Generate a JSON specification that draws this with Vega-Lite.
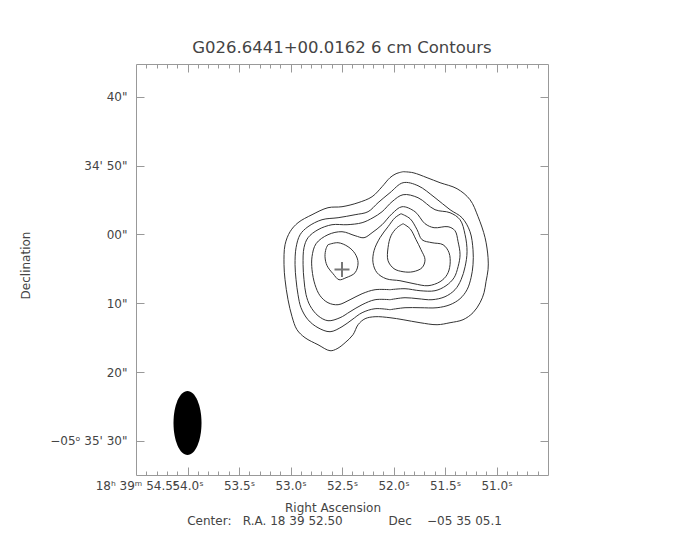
{
  "$schema": "https://vega.github.io/schema/vega-lite/v6.json",
  "width": 412,
  "height": 411,
  "autosize": {"type": "none"},
  "padding": {"left": 136, "top": 64, "right": 136, "bottom": 65},
  "background": "white",
  "title": {"text": "G026.6441+00.0162 6 cm Contours", "font": "DejaVu Sans", "fontSize": 16.5, "fontWeight": "normal", "color": "#444", "offset": 7, "anchor": "middle"},
  "config": {
    "view": {"stroke": "#999", "strokeWidth": 1},
    "axis": {"grid": false, "domain": false, "labelFont": "DejaVu Sans", "labelFontSize": 12, "labelColor": "#444", "titleFont": "DejaVu Sans", "titleFontSize": 12, "titleFontWeight": "normal", "titleColor": "#444", "tickColor": "#999", "tickWidth": 1}
  },
  "datasets": {
    "contours": [
      {"c":1,"i":0,"ra":51.907,"dec":9.105},{"c":1,"i":1,"ra":51.810,"dec":8.960},{"c":1,"i":2,"ra":51.674,"dec":8.234},{"c":1,"i":3,"ra":51.548,"dec":7.507},{"c":1,"i":4,"ra":51.383,"dec":6.636},{"c":1,"i":5,"ra":51.257,"dec":5.038},{"c":1,"i":6,"ra":51.179,"dec":2.569},{"c":1,"i":7,"ra":51.111,"dec":-0.482},{"c":1,"i":8,"ra":51.082,"dec":-3.387},{"c":1,"i":9,"ra":51.082,"dec":-5.130},{"c":1,"i":10,"ra":51.102,"dec":-6.873},{"c":1,"i":11,"ra":51.121,"dec":-8.471},{"c":1,"i":12,"ra":51.160,"dec":-9.924},{"c":1,"i":13,"ra":51.228,"dec":-11.376},{"c":1,"i":14,"ra":51.325,"dec":-12.393},{"c":1,"i":15,"ra":51.451,"dec":-12.829},{"c":1,"i":16,"ra":51.577,"dec":-13.120},{"c":1,"i":17,"ra":51.742,"dec":-12.829},{"c":1,"i":18,"ra":51.907,"dec":-12.393},{"c":1,"i":19,"ra":52.034,"dec":-12.103},{"c":1,"i":20,"ra":52.179,"dec":-11.957},{"c":1,"i":21,"ra":52.276,"dec":-12.248},{"c":1,"i":22,"ra":52.344,"dec":-13.120},{"c":1,"i":23,"ra":52.393,"dec":-14.572},{"c":1,"i":24,"ra":52.470,"dec":-15.734},{"c":1,"i":25,"ra":52.548,"dec":-16.606},{"c":1,"i":26,"ra":52.616,"dec":-16.896},{"c":1,"i":27,"ra":52.733,"dec":-16.025},{"c":1,"i":28,"ra":52.859,"dec":-15.008},{"c":1,"i":29,"ra":52.937,"dec":-13.846},{"c":1,"i":30,"ra":52.985,"dec":-11.957},{"c":1,"i":31,"ra":53.024,"dec":-9.488},{"c":1,"i":32,"ra":53.053,"dec":-6.583},{"c":1,"i":33,"ra":53.063,"dec":-4.404},{"c":1,"i":34,"ra":53.053,"dec":-1.499},{"c":1,"i":35,"ra":53.004,"dec":0.390},{"c":1,"i":36,"ra":52.927,"dec":1.697},{"c":1,"i":37,"ra":52.791,"dec":2.859},{"c":1,"i":38,"ra":52.636,"dec":3.876},{"c":1,"i":39,"ra":52.500,"dec":4.021},{"c":1,"i":40,"ra":52.344,"dec":4.602},{"c":1,"i":41,"ra":52.208,"dec":5.474},{"c":1,"i":42,"ra":52.111,"dec":6.926},{"c":1,"i":43,"ra":52.034,"dec":8.234},{"c":1,"i":44,"ra":51.975,"dec":8.815},{"c":1,"i":45,"ra":51.907,"dec":9.105},

      {"c":2,"i":0,"ra":52.034,"dec":-10.941},{"c":2,"i":1,"ra":52.179,"dec":-10.795},{"c":2,"i":2,"ra":52.305,"dec":-11.376},{"c":2,"i":3,"ra":52.403,"dec":-12.393},{"c":2,"i":4,"ra":52.500,"dec":-13.410},{"c":2,"i":5,"ra":52.616,"dec":-14.136},{"c":2,"i":6,"ra":52.733,"dec":-13.555},{"c":2,"i":7,"ra":52.830,"dec":-12.393},{"c":2,"i":8,"ra":52.898,"dec":-10.650},{"c":2,"i":9,"ra":52.927,"dec":-8.762},{"c":2,"i":10,"ra":52.946,"dec":-6.583},{"c":2,"i":11,"ra":52.956,"dec":-4.404},{"c":2,"i":12,"ra":52.946,"dec":-1.934},{"c":2,"i":13,"ra":52.907,"dec":-0.046},{"c":2,"i":14,"ra":52.830,"dec":1.116},{"c":2,"i":15,"ra":52.694,"dec":2.133},{"c":2,"i":16,"ra":52.538,"dec":2.423},{"c":2,"i":17,"ra":52.373,"dec":2.859},{"c":2,"i":18,"ra":52.247,"dec":3.295},{"c":2,"i":19,"ra":52.150,"dec":4.602},{"c":2,"i":20,"ra":52.034,"dec":6.055},{"c":2,"i":21,"ra":51.907,"dec":7.507},{"c":2,"i":22,"ra":51.762,"dec":7.072},{"c":2,"i":23,"ra":51.597,"dec":5.329},{"c":2,"i":24,"ra":51.451,"dec":3.585},{"c":2,"i":25,"ra":51.335,"dec":2.423},{"c":2,"i":26,"ra":51.257,"dec":0.390},{"c":2,"i":27,"ra":51.228,"dec":-2.225},{"c":2,"i":28,"ra":51.228,"dec":-4.404},{"c":2,"i":29,"ra":51.247,"dec":-6.292},{"c":2,"i":30,"ra":51.286,"dec":-8.035},{"c":2,"i":31,"ra":51.354,"dec":-9.343},{"c":2,"i":32,"ra":51.451,"dec":-10.214},{"c":2,"i":33,"ra":51.577,"dec":-10.650},{"c":2,"i":34,"ra":51.742,"dec":-10.650},{"c":2,"i":35,"ra":51.888,"dec":-10.650},{"c":2,"i":36,"ra":52.034,"dec":-10.941},

      {"c":3,"i":0,"ra":52.034,"dec":-9.488},{"c":3,"i":1,"ra":52.179,"dec":-9.488},{"c":3,"i":2,"ra":52.305,"dec":-10.214},{"c":3,"i":3,"ra":52.422,"dec":-11.231},{"c":3,"i":4,"ra":52.519,"dec":-12.103},{"c":3,"i":5,"ra":52.636,"dec":-12.538},{"c":3,"i":6,"ra":52.733,"dec":-11.812},{"c":3,"i":7,"ra":52.810,"dec":-10.359},{"c":3,"i":8,"ra":52.849,"dec":-8.762},{"c":3,"i":9,"ra":52.869,"dec":-6.583},{"c":3,"i":10,"ra":52.878,"dec":-4.404},{"c":3,"i":11,"ra":52.869,"dec":-1.934},{"c":3,"i":12,"ra":52.830,"dec":-0.482},{"c":3,"i":13,"ra":52.733,"dec":0.680},{"c":3,"i":14,"ra":52.597,"dec":1.406},{"c":3,"i":15,"ra":52.451,"dec":1.406},{"c":3,"i":16,"ra":52.305,"dec":1.697},{"c":3,"i":17,"ra":52.199,"dec":2.423},{"c":3,"i":18,"ra":52.111,"dec":3.295},{"c":3,"i":19,"ra":52.014,"dec":4.747},{"c":3,"i":20,"ra":51.907,"dec":5.764},{"c":3,"i":21,"ra":51.762,"dec":5.329},{"c":3,"i":22,"ra":51.597,"dec":3.585},{"c":3,"i":23,"ra":51.451,"dec":3.150},{"c":3,"i":24,"ra":51.354,"dec":2.133},{"c":3,"i":25,"ra":51.305,"dec":-0.046},{"c":3,"i":26,"ra":51.286,"dec":-2.516},{"c":3,"i":27,"ra":51.305,"dec":-4.694},{"c":3,"i":28,"ra":51.344,"dec":-6.583},{"c":3,"i":29,"ra":51.403,"dec":-8.035},{"c":3,"i":30,"ra":51.500,"dec":-9.052},{"c":3,"i":31,"ra":51.626,"dec":-9.488},{"c":3,"i":32,"ra":51.762,"dec":-9.343},{"c":3,"i":33,"ra":51.888,"dec":-9.197},{"c":3,"i":34,"ra":52.034,"dec":-9.488},

      {"c":4,"i":0,"ra":52.034,"dec":-8.035},{"c":4,"i":1,"ra":52.179,"dec":-8.035},{"c":4,"i":2,"ra":52.305,"dec":-8.616},{"c":4,"i":3,"ra":52.422,"dec":-9.488},{"c":4,"i":4,"ra":52.538,"dec":-10.214},{"c":4,"i":5,"ra":52.636,"dec":-9.924},{"c":4,"i":6,"ra":52.713,"dec":-8.907},{"c":4,"i":7,"ra":52.762,"dec":-7.309},{"c":4,"i":8,"ra":52.791,"dec":-5.130},{"c":4,"i":9,"ra":52.791,"dec":-3.242},{"c":4,"i":10,"ra":52.752,"dec":-1.353},{"c":4,"i":11,"ra":52.636,"dec":-0.046},{"c":4,"i":12,"ra":52.500,"dec":0.390},{"c":4,"i":13,"ra":52.373,"dec":-0.191},{"c":4,"i":14,"ra":52.286,"dec":-0.482},{"c":4,"i":15,"ra":52.208,"dec":0.244},{"c":4,"i":16,"ra":52.111,"dec":1.406},{"c":4,"i":17,"ra":52.014,"dec":3.004},{"c":4,"i":18,"ra":51.917,"dec":4.021},{"c":4,"i":19,"ra":51.791,"dec":3.295},{"c":4,"i":20,"ra":51.694,"dec":1.552},{"c":4,"i":21,"ra":51.606,"dec":0.971},{"c":4,"i":22,"ra":51.470,"dec":1.116},{"c":4,"i":23,"ra":51.403,"dec":0.535},{"c":4,"i":24,"ra":51.373,"dec":-1.063},{"c":4,"i":25,"ra":51.354,"dec":-2.951},{"c":4,"i":26,"ra":51.373,"dec":-4.694},{"c":4,"i":27,"ra":51.412,"dec":-6.292},{"c":4,"i":28,"ra":51.490,"dec":-7.454},{"c":4,"i":29,"ra":51.597,"dec":-8.181},{"c":4,"i":30,"ra":51.742,"dec":-8.181},{"c":4,"i":31,"ra":51.888,"dec":-7.890},{"c":4,"i":32,"ra":52.034,"dec":-8.035},

      {"c":5,"i":0,"ra":51.927,"dec":3.004},{"c":5,"i":1,"ra":51.839,"dec":2.278},{"c":5,"i":2,"ra":51.771,"dec":0.680},{"c":5,"i":3,"ra":51.723,"dec":-0.772},{"c":5,"i":4,"ra":51.626,"dec":-1.208},{"c":5,"i":5,"ra":51.519,"dec":-1.499},{"c":5,"i":6,"ra":51.461,"dec":-2.661},{"c":5,"i":7,"ra":51.451,"dec":-4.404},{"c":5,"i":8,"ra":51.480,"dec":-5.857},{"c":5,"i":9,"ra":51.548,"dec":-6.873},{"c":5,"i":10,"ra":51.665,"dec":-7.454},{"c":5,"i":11,"ra":51.801,"dec":-7.164},{"c":5,"i":12,"ra":51.937,"dec":-6.728},{"c":5,"i":13,"ra":52.072,"dec":-6.438},{"c":5,"i":14,"ra":52.160,"dec":-5.566},{"c":5,"i":15,"ra":52.199,"dec":-4.113},{"c":5,"i":16,"ra":52.189,"dec":-2.370},{"c":5,"i":17,"ra":52.131,"dec":-0.482},{"c":5,"i":18,"ra":52.053,"dec":1.116},{"c":5,"i":19,"ra":51.985,"dec":2.423},{"c":5,"i":20,"ra":51.927,"dec":3.004},

      {"c":6,"i":0,"ra":52.636,"dec":-1.499},{"c":6,"i":1,"ra":52.538,"dec":-1.208},{"c":6,"i":2,"ra":52.441,"dec":-1.789},{"c":6,"i":3,"ra":52.373,"dec":-2.806},{"c":6,"i":4,"ra":52.344,"dec":-4.113},{"c":6,"i":5,"ra":52.373,"dec":-5.566},{"c":6,"i":6,"ra":52.461,"dec":-6.292},{"c":6,"i":7,"ra":52.529,"dec":-6.583},{"c":6,"i":8,"ra":52.587,"dec":-5.711},{"c":6,"i":9,"ra":52.645,"dec":-4.549},{"c":6,"i":10,"ra":52.665,"dec":-3.242},{"c":6,"i":11,"ra":52.655,"dec":-2.080},{"c":6,"i":12,"ra":52.636,"dec":-1.499},

      {"c":7,"i":0,"ra":51.907,"dec":1.552},{"c":7,"i":1,"ra":51.839,"dec":0.826},{"c":7,"i":2,"ra":51.781,"dec":-0.772},{"c":7,"i":3,"ra":51.733,"dec":-2.225},{"c":7,"i":4,"ra":51.694,"dec":-3.678},{"c":7,"i":5,"ra":51.723,"dec":-4.840},{"c":7,"i":6,"ra":51.810,"dec":-5.421},{"c":7,"i":7,"ra":51.907,"dec":-5.421},{"c":7,"i":8,"ra":51.995,"dec":-4.985},{"c":7,"i":9,"ra":52.053,"dec":-3.823},{"c":7,"i":10,"ra":52.053,"dec":-1.934},{"c":7,"i":11,"ra":52.024,"dec":-0.191},{"c":7,"i":12,"ra":51.966,"dec":0.971},{"c":7,"i":13,"ra":51.907,"dec":1.552}
    ],
    "center": [{"ra": 52.5, "dec": -5.1}],
    "beam": [{"ra": 54.0, "dec": -27.4}]
  },
  "resolve": {"axis": {"x": "independent", "y": "independent"}},
  "layer": [
    {
      "data": {"name": "contours"},
      "mark": {"type": "line", "color": "#333", "strokeWidth": 1, "interpolate": "catmull-rom"},
      "encoding": {
        "x": {"field": "ra", "type": "quantitative", "scale": {"domain": [50.5, 54.5], "reverse": true, "nice": false, "zero": false},
          "axis": {"orient": "bottom", "values": [54.5, 54, 53.5, 53, 52.5, 52, 51.5, 51],
            "labelExpr": "datum.value == 54.5 ? '18ʰ 39ᵐ 54.5ˢ' : format(datum.value, '.1f') + 'ˢ'",
            "ticks": false, "tickSize": 0, "labelPadding": 5, "labelFlush": false, "labelOverlap": false, "labelBound": false,
            "title": "Right Ascension", "titleX": 196.5, "titleY": 36, "titleBaseline": "alphabetic", "titleAlign": "center"}},
        "y": {"field": "dec", "type": "quantitative", "scale": {"domain": [-34.95, 24.75], "nice": false, "zero": false},
          "axis": {"orient": "left", "values": [20, 10, 0, -10, -20, -30],
            "labelExpr": "datum.value == 20 ? '40\"' : datum.value == 10 ? '34\\' 50\"' : datum.value == 0 ? '00\"' : datum.value == -10 ? '10\"' : datum.value == -20 ? '20\"' : '−05ᵒ 35\\' 30\"'",
            "ticks": false, "tickSize": 0, "labelPadding": 9, "labelOverlap": false, "labelBound": false, "labelFlush": false,
            "title": "Declination", "titleX": -107, "titleY": 201, "titleBaseline": "alphabetic", "titleAngle": 270}},
        "detail": {"field": "c", "type": "nominal"},
        "order": {"field": "i", "type": "quantitative"}
      }
    },
    {
      "data": {"name": "center"},
      "mark": {"type": "point", "shape": "M-1,0L1,0M0,-1L0,1", "size": 225, "stroke": "#777", "strokeWidth": 2, "filled": false, "opacity": 1},
      "encoding": {
        "x": {"field": "ra", "type": "quantitative", "scale": {"domain": [50.5, 54.5], "reverse": true, "nice": false, "zero": false},
          "axis": {"orient": "bottom", "values": [54, 53.5, 53, 52.5, 52, 51.5, 51], "labels": false, "tickSize": -8, "title": null}},
        "y": {"field": "dec", "type": "quantitative", "scale": {"domain": [-34.95, 24.75], "nice": false, "zero": false},
          "axis": {"orient": "left", "values": [20, 10, 0, -10, -20, -30], "labels": false, "tickSize": -8, "title": null}}
      }
    },
    {
      "data": {"name": "beam"},
      "mark": {"type": "point", "shape": "M0,-1C0.2416,-1,0.4375,-0.5523,0.4375,0C0.4375,0.5523,0.2416,1,0,1C-0.2416,1,-0.4375,0.5523,-0.4375,0C-0.4375,-0.5523,-0.2416,-1,0,-1Z", "size": 4096, "fill": "black", "filled": true, "strokeWidth": 0, "opacity": 1},
      "encoding": {
        "x": {"field": "ra", "type": "quantitative", "scale": {"domain": [50.5, 54.5], "reverse": true, "nice": false, "zero": false},
          "axis": {"orient": "bottom", "values": [54.4, 54.3, 54.2, 54.1, 53.9, 53.8, 53.7, 53.6, 53.4, 53.3, 53.2, 53.1, 52.9, 52.8, 52.7, 52.6, 52.4, 52.3, 52.2, 52.1, 51.9, 51.8, 51.7, 51.6, 51.4, 51.3, 51.2, 51.1, 50.9, 50.8, 50.7, 50.6], "labels": false, "tickSize": -4, "title": null}},
        "y": {"field": "dec", "type": "quantitative", "scale": {"domain": [-34.95, 24.75], "nice": false, "zero": false},
          "axis": {"orient": "right", "values": [20, 10, 0, -10, -20, -30], "labels": false, "tickSize": -8, "title": null}}
      }
    },
    {
      "data": {"name": "center"},
      "mark": {"type": "point", "opacity": 0},
      "encoding": {
        "x": {"field": "ra", "type": "quantitative", "scale": {"domain": [50.5, 54.5], "reverse": true, "nice": false, "zero": false},
          "axis": {"orient": "top", "values": [54, 53.5, 53, 52.5, 52, 51.5, 51], "labels": false, "tickSize": -8, "title": null}},
        "y": {"field": "dec", "type": "quantitative", "scale": {"domain": [-34.95, 24.75], "nice": false, "zero": false}, "axis": null}
      }
    },
    {
      "data": {"name": "center"},
      "mark": {"type": "point", "opacity": 0},
      "encoding": {
        "x": {"field": "ra", "type": "quantitative", "scale": {"domain": [50.5, 54.5], "reverse": true, "nice": false, "zero": false},
          "axis": {"orient": "top", "values": [54.4, 54.3, 54.2, 54.1, 53.9, 53.8, 53.7, 53.6, 53.4, 53.3, 53.2, 53.1, 52.9, 52.8, 52.7, 52.6, 52.4, 52.3, 52.2, 52.1, 51.9, 51.8, 51.7, 51.6, 51.4, 51.3, 51.2, 51.1, 50.9, 50.8, 50.7, 50.6], "labels": false, "tickSize": -4, "title": null}},
        "y": {"field": "dec", "type": "quantitative", "scale": {"domain": [-34.95, 24.75], "nice": false, "zero": false}, "axis": null}
      }
    },
    {
      "data": {"name": "center"},
      "mark": {"type": "point", "opacity": 0},
      "encoding": {
        "x": {"field": "ra", "type": "quantitative", "scale": {"domain": [50.5, 54.5], "reverse": true, "nice": false, "zero": false},
          "axis": {"orient": "bottom", "values": [52.5], "labels": false, "ticks": false, "tickSize": 0,
            "title": "Center:\u00a0\u00a0\u00a0R.A.\u00a018\u00a039\u00a052.50\u00a0\u00a0\u00a0\u00a0\u00a0\u00a0\u00a0\u00a0\u00a0\u00a0\u00a0\u00a0Dec\u00a0\u00a0\u00a0\u00a0−05\u00a035\u00a005.1",
            "titleX": 50.7, "titleY": 49, "titleAlign": "left", "titleBaseline": "alphabetic"}},
        "y": {"field": "dec", "type": "quantitative", "scale": {"domain": [-34.95, 24.75], "nice": false, "zero": false}, "axis": null}
      }
    }
  ]
}
